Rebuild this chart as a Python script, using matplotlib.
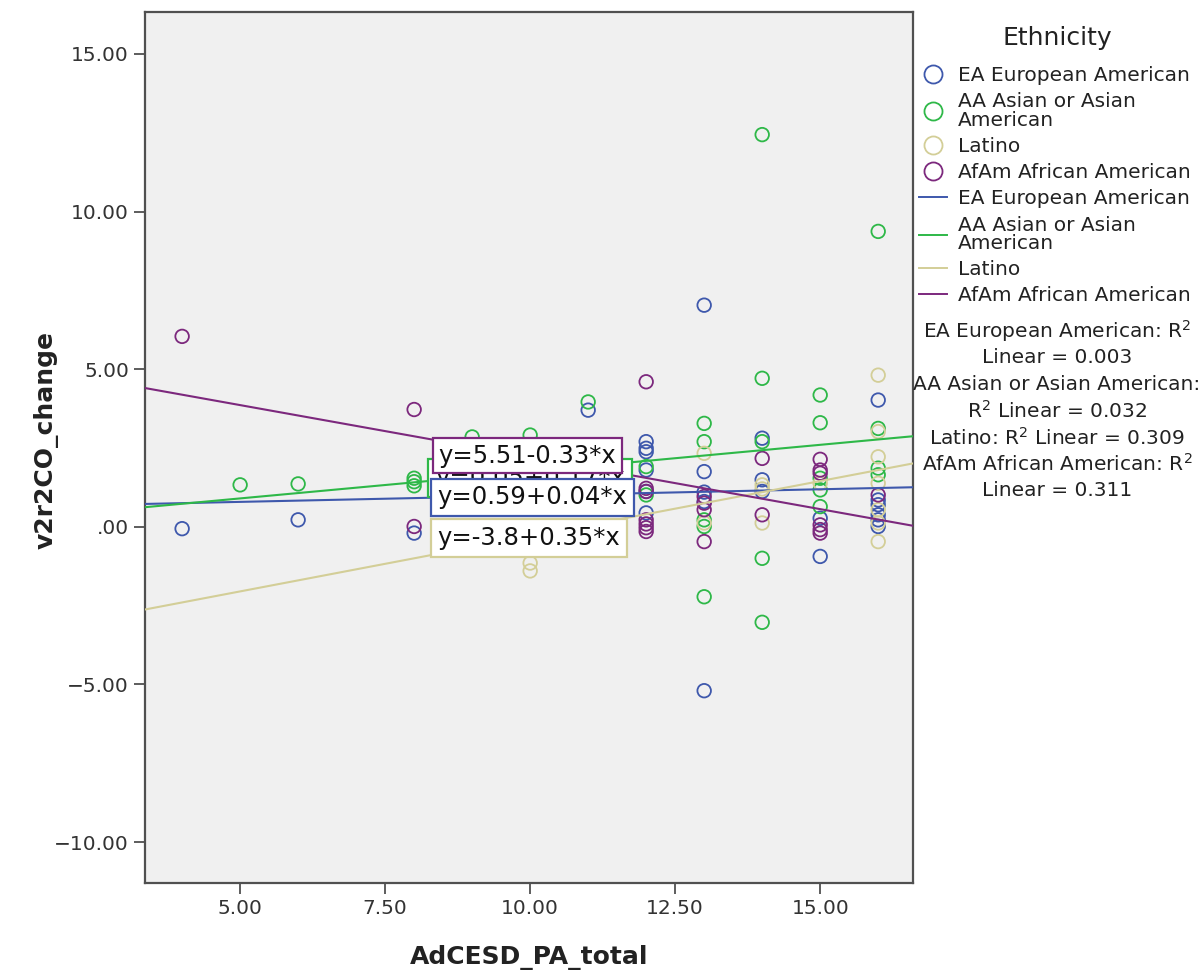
import matplotlib
matplotlib.use("Agg")
import matplotlib.pyplot as plt
from matplotlib.lines import Line2D

# ---------------- data ----------------
groups = ["EA European American", "AA Asian or Asian American", "Latino", "AfAm African American"]
legend_labels = ["EA European American", "AA Asian or Asian\nAmerican", "Latino", "AfAm African American"]
colors = ["#3E58AC", "#2EB848", "#D3CE97", "#7C287D"]

ea_x = [4, 6, 8, 11, 12, 12, 12, 12, 12, 12, 13, 13, 13, 13, 13, 14, 14, 14, 15, 15, 16, 16, 16, 16, 16, 16]
ea_y = [-0.06, 0.22, -0.20, 3.70, 2.70, 2.49, 2.38, 1.80, 1.12, 0.44, 7.03, 1.75, 1.10, 0.80, -5.20,
        2.81, 1.49, 1.12, 0.27, -0.94, 4.02, 0.85, 0.70, 0.38, 0.22, 0.01]

aa_x = [5, 6, 8, 8, 8, 9, 10, 11, 12, 12, 13, 13, 13, 13, 13, 14, 14, 14, 14, 14, 15, 15, 15, 15, 15, 16, 16, 16, 16]
aa_y = [1.33, 1.36, 1.54, 1.43, 1.30, 2.85, 2.91, 3.96, 1.91, 1.01, 3.28, 2.70, 0.22, 0.01, -2.22,
        12.44, 4.71, 2.70, -1.00, -3.03, 4.18, 3.30, 1.54, 1.17, 0.64, 9.37, 3.12, 1.86, 1.65]

la_x = [10, 10, 13, 13, 14, 14, 14, 15, 16, 16, 16, 16, 16, 16, 16]
la_y = [-1.15, -1.40, 2.33, 0.12, 1.33, 1.20, 0.12, 1.38, 4.81, 3.02, 2.22, 1.38, 0.54, 0.12, -0.47]

af_x = [4, 8, 8, 12, 12, 12, 12, 12, 12, 12, 13, 13, 13, 13, 14, 14, 15, 15, 15, 15, 15, 15, 16]
af_y = [6.04, 3.72, 0.01, 4.60, 1.22, 1.12, 0.22, 0.09, -0.03, -0.15, 0.96, 0.75, 0.54, -0.47,
        2.17, 0.38, 2.14, 1.80, 1.70, 0.06, -0.09, -0.20, 1.01]

xs = [ea_x, aa_x, la_x, af_x]
ys = [ea_y, aa_y, la_y, af_y]

intercepts = [0.59, 0.05, -3.8, 5.51]
slopes = [0.04, 0.17, 0.35, -0.33]
equations = ["y=0.59+0.04*x", "y=0.05+0.17*x", "y=-3.8+0.35*x", "y=5.51-0.33*x"]
r2_lines = ["EA European American: R$^2$", "Linear = 0.003", "AA Asian or Asian American:",
            "R$^2$ Linear = 0.032", "Latino: R$^2$ Linear = 0.309", "AfAm African American: R$^2$",
            "Linear = 0.311"]

xticks = [5, 7.5, 10, 12.5, 15]
xtick_labels = ["5.00", "7.50", "10.00", "12.50", "15.00"]
yticks = [15, 10, 5, 0, -5, -10]
ytick_labels = ["15.00", "10.00", "5.00", ".00", "\u22125.00", "\u221210.00"]

# ---------------- figure ----------------
W, H = 1204, 977
fig = plt.figure(figsize=(W / 100, H / 100), dpi=100)
fig.patch.set_facecolor("white")
ax = fig.add_axes([145 / W, 1 - 883 / H, (913 - 145) / W, (883 - 12) / H])
ax.set_facecolor("#F0F0F0")
ax.set_xlim(3.36, 16.6)
ax.set_ylim(-11.3, 16.33)

for sp in ax.spines.values():
    sp.set_color("#505050")
    sp.set_linewidth(1.6)

for i in range(4):
    ax.scatter(xs[i], ys[i], s=95, facecolors="none", edgecolors=colors[i], linewidths=1.3, zorder=3 + i * 0.1)

for i in range(4):
    ax.axline((0, intercepts[i]), slope=slopes[i], color=colors[i], lw=1.5, zorder=5)

# equation labels (drawn in order: latino, green, blue, purple on top)
eq_pos = {2: -0.35, 1: 1.55, 0: 0.93, 3: 2.26}
eq_pad = {2: 0.28, 1: 0.28, 0: 0.28, 3: 0.22}
eq_x = {2: 8.40, 1: 8.36, 0: 8.40, 3: 8.42}
for k, i in enumerate([2, 1, 0, 3]):
    ax.text(eq_x[i], eq_pos[i], equations[i], fontsize=17.5, ha="left", va="center", color="#111111",
            zorder=10 + k,
            bbox=dict(boxstyle="square,pad=%.2f" % eq_pad[i], facecolor="white", edgecolor=colors[i],
                      linewidth=1.6))

ax.set_xticks(xticks)
ax.set_xticklabels(xtick_labels)
ax.set_yticks(yticks)
ax.set_yticklabels(ytick_labels)
ax.tick_params(direction="out", length=8, width=1.3, color="#505050", labelsize=14.5,
               labelcolor="#333333", top=False, right=False)

lab_font = dict(fontsize=18, fontweight="bold", color="#222222")
fig.text(529 / W, 1 - 957 / H, "AdCESD_PA_total", ha="center", va="center", **lab_font)
fig.text(46 / W, 1 - 440 / H, "v2r2CO_change", ha="center", va="center", rotation=90, **lab_font)

# legend
fig.text(1057 / W, 1 - 38 / H, "Ethnicity", ha="center", va="center", fontsize=18, color="#222222")
handles = []
for i in range(4):
    handles.append(Line2D([], [], marker="o", linestyle="none", markersize=13, markerfacecolor="none",
                          markeredgecolor=colors[i], markeredgewidth=1.3))
for i in range(4):
    handles.append(Line2D([], [], color=colors[i], lw=1.4))
labels = legend_labels + legend_labels
leg = fig.legend(handles, labels, loc="upper left", bbox_to_anchor=(917 / W, 1 - 64 / H), frameon=False,
                 fontsize=14.5, handlelength=1.4, handletextpad=0.55,
                 labelspacing=0.36, borderaxespad=0, borderpad=0.1)
for t in leg.get_texts():
    t.set_linespacing(0.95)
    t.set_color("#222222")

for k, s in enumerate(r2_lines):
    fig.text(1057 / W, 1 - (331 + 26.6 * k) / H, s, ha="center", va="center", fontsize=14.5, color="#222222")

fig.savefig("out.png", dpi=100)
